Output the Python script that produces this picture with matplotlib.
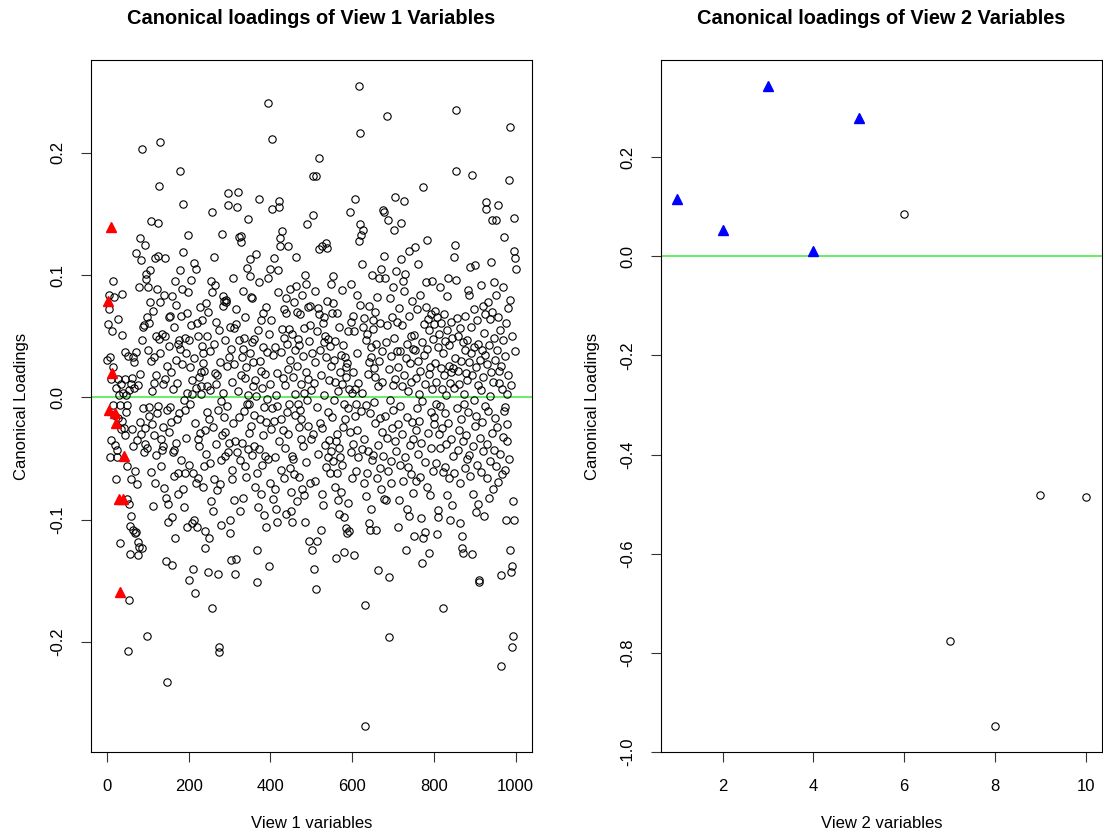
import numpy as np
import matplotlib
matplotlib.use("Agg")
import matplotlib.pyplot as plt

plt.rcParams['font.family'] = ['Liberation Sans', 'DejaVu Sans']

# canonical loadings of view 1 (variables 1..1000)
loadings1 = [
    0.031, 0.079, 0.060, -0.010, 0.084, 0.072, -0.049, 0.033, 0.139, 0.015,
    -0.035, 0.020, 0.054, 0.025, 0.095, -0.006, 0.082, -0.014, -0.013, -0.039,
    0.008, -0.021, -0.067, -0.049, -0.043, 0.015, 0.064, -0.017, 0.002, -0.083,
    -0.006, -0.159, -0.119, -0.026, 0.011, 0.051, 0.085, -0.019, -0.083, 0.004,
    -0.048, -0.025, 0.037, -0.031, 0.015, -0.012, 0.002, -0.083, -0.056, -0.006,
    0.034, -0.207, 0.006, -0.087, -0.166, -0.128, -0.105, -0.097, 0.011, -0.067,
    0.016, -0.026, -0.108, 0.033, -0.040, 0.008, 0.029, -0.111, -0.060, 0.118,
    0.037, -0.110, -0.035, -0.071, 0.010, -0.118, -0.129, 0.090, -0.122, 0.019,
    -0.020, 0.130, -0.030, 0.112, 0.203, -0.123, 0.047, -0.009, 0.058, -0.045,
    0.059, 0.125, -0.025, -0.038, 0.101, 0.097, -0.195, 0.066, -0.041, 0.039,
    0.090, -0.015, 0.061, -0.008, 0.078, 0.104, 0.144, 0.030, -0.061, 0.005,
    -0.022, 0.071, -0.089, -0.031, 0.033, 0.012, 0.114, -0.070, -0.047, 0.050,
    0.018, 0.089, -0.013, -0.007, 0.143, 0.116, 0.048, 0.173, 0.209, 0.078,
    0.036, -0.056, -0.034, -0.043, 0.052, -0.040, 0.011, -0.024, 0.084, -0.074,
    0.114, 0.015, 0.050, -0.134, -0.082, 0.026, -0.010, -0.233, -0.087, -0.102,
    0.066, -0.028, 0.042, 0.067, -0.008, -0.020, 0.021, -0.137, 0.083, -0.098,
    -0.045, 0.007, 0.058, -0.064, -0.043, 0.095, -0.115, 0.031, -0.037, 0.076,
    0.012, -0.018, -0.062, 0.044, -0.079, 0.047, -0.013, 0.185, 0.040, 0.104,
    0.067, -0.051, 0.027, 0.089, 0.158, 0.119, -0.075, -0.002, -0.090, -0.010,
    0.049, -0.062, 0.036, -0.033, 0.004, -0.106, 0.069, 0.133, 0.086, -0.055,
    0.047, -0.149, -0.005, 0.025, 0.096, 0.059, -0.103, 0.014, 0.003, -0.062,
    -0.140, 0.110, -0.100, 0.032, -0.021, -0.160, 0.008, -0.070, 0.105, -0.106,
    0.061, -0.034, -0.066, 0.050, 0.017, -0.040, 0.074, -0.029, 0.003, 0.009,
    0.021, 0.042, 0.063, 0.036, -0.073, 0.028, -0.056, 0.022, -0.027, -0.109,
    -0.123, 0.077, -0.046, -0.012, 0.050, 0.009, -0.143, 0.070, -0.115, -0.018,
    0.038, -0.054, 0.006, -0.085, 0.095, -0.172, 0.086, 0.152, -0.024, -0.093,
    0.044, -0.067, 0.115, 0.092, 0.020, -0.038, 0.011, 0.062, -0.076, 0.018,
    -0.010, -0.144, -0.204, -0.208, 0.055, -0.071, 0.029, -0.003, -0.051, -0.104,
    -0.031, 0.134, 0.004, 0.083, 0.075, -0.016, 0.079, 0.047, -0.048, -0.028,
    0.080, 0.078, -0.007, 0.026, -0.045, 0.157, 0.167, 0.033, -0.037, 0.058,
    -0.100, -0.111, -0.133, 0.040, -0.059, 0.013, -0.067, 0.098, -0.021, 0.057,
    0.027, -0.084, -0.144, -0.036, 0.072, 0.060, -0.132, 0.156, -0.045, 0.168,
    0.005, -0.016, 0.131, 0.047, -0.093, -0.051, 0.018, 0.127, 0.132, 0.033,
    -0.037, 0.087, -0.082, 0.040, -0.011, 0.049, 0.016, -0.056, 0.066, 0.025,
    -0.065, -0.005, 0.106, -0.042, 0.002, 0.146, -0.029, -0.005, 0.036, 0.113,
    0.099, 0.082, -0.023, 0.081, 0.045, -0.047, 0.009, 0.029, -0.014, -0.040,
    0.048, 0.014, -0.073, 0.117, 0.001, -0.062, -0.151, -0.125, 0.055, -0.090,
    0.094, -0.042, 0.162, 0.030, -0.018, 0.063, -0.079, 0.022, -0.055, 0.008,
    -0.031, 0.069, 0.041, -0.008, -0.096, 0.019, -0.048, 0.074, -0.106, -0.020,
    0.037, -0.001, 0.241, 0.098, -0.050, 0.052, -0.138, -0.070, 0.105, 0.011,
    -0.026, 0.063, -0.009, 0.211, 0.154, -0.083, 0.035, -0.019, 0.114, -0.075,
    0.041, -0.049, 0.002, -0.091, -0.102, -0.007, 0.020, 0.104, 0.086, -0.036,
    0.156, 0.161, 0.130, 0.124, 0.037, -0.059, -0.018, 0.056, 0.136, -0.027,
    0.016, -0.066, 0.049, 0.072, -0.041, 0.010, 0.069, -0.095, 0.081, 0.044,
    -0.012, 0.124, 0.023, -0.030, -0.005, 0.056, 0.089, -0.058, 0.031, -0.077,
    -0.093, -0.102, -0.048, 0.052, 0.017, -0.050, 0.078, -0.063, 0.003, 0.039,
    -0.014, 0.091, 0.115, -0.085, 0.026, 0.070, -0.005, 0.048, -0.024, 0.043,
    -0.065, 0.068, -0.010, -0.018, 0.011, -0.034, 0.084, -0.075, 0.034, -0.040,
    0.057, -0.080, 0.004, 0.100, -0.102, 0.093, 0.021, -0.053, 0.142, -0.002,
    0.074, 0.015, -0.023, -0.117, 0.046, 0.059, 0.075, -0.070, 0.006, -0.034,
    -0.125, 0.036, 0.149, -0.030, 0.181, -0.140, 0.012, 0.087, -0.068, 0.029,
    0.181, -0.157, -0.117, 0.054, -0.008, 0.073, -0.046, 0.196, 0.121, 0.068,
    -0.021, 0.039, -0.108, 0.018, -0.079, 0.124, -0.025, 0.061, -0.088, 0.002,
    0.045, 0.066, -0.039, 0.050, -0.057, 0.126, 0.033, 0.122, 0.079, -0.012,
    0.048, -0.049, 0.014, -0.035, 0.042, -0.062, 0.093, 0.026, -0.044, 0.069,
    -0.016, 0.099, 0.077, -0.052, 0.031, -0.002, 0.046, -0.073, 0.013, -0.036,
    -0.131, -0.062, 0.069, -0.030, -0.084, 0.005, -0.041, 0.058, -0.095, 0.021,
    -0.049, 0.035, -0.077, 0.011, -0.055, 0.088, -0.024, 0.043, -0.098, -0.005,
    -0.126, 0.033, -0.018, 0.017, -0.107, 0.025, -0.111, 0.028, -0.009, -0.086,
    0.054, -0.109, 0.007, -0.028, 0.152, -0.045, 0.093, 0.062, 0.004, -0.066,
    0.021, -0.038, 0.067, -0.129, 0.054, -0.015, 0.162, 0.007, -0.060, -0.005,
    0.036, -0.027, 0.084, -0.049, 0.012, 0.128, 0.255, 0.142, 0.216, 0.076,
    -0.011, 0.133, -0.042, 0.109, 0.004, 0.058, 0.137, -0.034, 0.065, -0.070,
    -0.170, -0.269, 0.047, -0.081, -0.006, 0.052, -0.062, -0.044, 0.019, 0.075,
    -0.103, 0.029, -0.108, -0.013, 0.033, -0.091, 0.041, -0.051, 0.100, 0.063,
    0.056, -0.047, 0.024, -0.004, 0.070, -0.021, 0.017, -0.108, 0.044, -0.066,
    0.082, -0.141, 0.009, -0.039, 0.098, 0.030, -0.058, 0.061, -0.017, 0.105,
    -0.075, 0.038, -0.028, 0.013, 0.153, -0.048, 0.152, 0.116, -0.083, 0.098,
    -0.015, -0.084, 0.045, -0.033, 0.230, 0.059, -0.060, 0.145, 0.023, -0.147,
    -0.196, 0.081, -0.002, -0.052, 0.034, -0.070, 0.066, -0.025, 0.010, 0.090,
    -0.010, 0.049, 0.137, -0.036, 0.015, 0.164, 0.103, -0.044, 0.062, 0.038,
    -0.022, -0.106, 0.025, -0.084, 0.073, -0.007, 0.038, -0.055, 0.143, 0.113,
    0.009, 0.059, -0.030, 0.095, -0.068, 0.018, 0.087, 0.161, -0.049, 0.101,
    -0.125, 0.032, -0.016, 0.044, -0.091, 0.005, -0.057, 0.120, 0.067, -0.097,
    0.028, -0.039, 0.050, -0.063, 0.013, -0.020, 0.079, -0.034, 0.040, -0.078,
    -0.113, 0.051, 0.039, 0.123, -0.027, 0.016, -0.068, 0.072, -0.009, 0.030,
    -0.046, 0.109, 0.003, -0.019, -0.065, 0.084, 0.022, -0.037, -0.099, -0.135,
    0.045, -0.003, 0.172, -0.115, 0.060, 0.035, -0.053, 0.011, -0.110, 0.074,
    0.094, -0.073, 0.129, 0.040, -0.029, 0.064, 0.019, -0.127, 0.055, -0.080,
    0.025, -0.041, 0.068, -0.012, 0.095, 0.007, -0.060, 0.048, -0.022, 0.060,
    -0.016, 0.071, 0.028, -0.054, -0.005, 0.013, 0.066, -0.112, 0.041, -0.098,
    -0.092, 0.052, -0.030, 0.090, -0.007, -0.041, 0.024, 0.061, -0.025, 0.007,
    -0.172, 0.036, -0.061, 0.018, 0.068, -0.013, -0.057, 0.046, 0.002, -0.038,
    0.083, -0.080, 0.055, 0.098, -0.021, 0.026, -0.066, 0.043, 0.012, -0.100,
    0.062, -0.034, 0.021, 0.049, -0.088, 0.024, -0.048, 0.115, 0.008, -0.062,
    0.032, 0.125, 0.235, 0.096, 0.185, 0.065, -0.009, 0.022, -0.043, 0.050,
    -0.027, 0.011, 0.057, -0.070, -0.103, 0.030, -0.018, -0.113, -0.123, -0.127,
    0.045, -0.036, 0.003, -0.005, 0.067, 0.039, -0.058, 0.020, -0.031, 0.047,
    0.014, -0.050, 0.088, -0.012, 0.084, -0.047, 0.029, 0.107, -0.064, 0.036,
    0.058, 0.182, -0.128, 0.018, -0.040, -0.079, 0.041, -0.002, 0.072, -0.023,
    0.108, -0.094, 0.025, -0.015, 0.063, -0.055, 0.010, 0.044, -0.087, -0.149,
    -0.151, 0.031, -0.033, 0.092, 0.006, -0.061, 0.039, -0.020, 0.075, -0.044,
    0.017, -0.097, 0.053, -0.007, 0.068, 0.035, 0.160, 0.154, -0.066, 0.027,
    -0.038, 0.078, -0.011, 0.043, -0.082, 0.064, 0.001, -0.052, 0.111, 0.021,
    -0.029, 0.070, 0.145, -0.075, 0.013, -0.043, 0.049, 0.094, -0.017, 0.031,
    -0.056, 0.084, 0.145, -0.024, 0.039, 0.066, 0.157, -0.069, 0.012, 0.022,
    -0.046, 0.055, -0.220, -0.145, 0.026, -0.063, 0.007, 0.047, -0.032, 0.090,
    0.131, -0.011, 0.034, -0.008, -0.059, -0.100, 0.061, -0.022, 0.003, -0.036,
    0.018, 0.073, -0.050, 0.178, 0.221, 0.080, -0.125, -0.143, 0.010, -0.138,
    0.050, -0.204, -0.195, -0.085, -0.100, 0.120, 0.147, 0.114, 0.038, 0.105,
]
# variables of view 1 drawn as red triangles
signal1 = [2, 4, 9, 12, 19, 22, 30, 32, 39, 41]

# canonical loadings of view 2 (variables 1..10)
loadings2 = [0.115, 0.053, 0.344, 0.011, 0.279, 0.085, -0.777, -0.947, -0.482, -0.485]
signal2 = [1, 2, 3, 4, 5]

xticks1 = [0, 200, 400, 600, 800, 1000]
yticks1 = [-0.2, -0.1, 0.0, 0.1, 0.2]
xticks2 = [2, 4, 6, 8, 10]
yticks2 = [-1.0, -0.8, -0.6, -0.4, -0.2, 0.0, 0.2]


def r_lim(v):
    # R's default 4% axis extension
    lo, hi = min(v), max(v)
    d = 0.04 * (hi - lo)
    return lo - d, hi + d


W, H = 1103, 835
fig = plt.figure(figsize=(W / 100, H / 100), dpi=100)

# axes boxes in pixels: left, top, right, bottom
boxes = [(91, 60, 532, 752), (661, 60, 1102, 752)]
panels = [
    (loadings1, signal1, 'red', xticks1, yticks1,
     'Canonical loadings of View 1 Variables', 'View 1 variables'),
    (loadings2, signal2, 'blue', xticks2, yticks2,
     'Canonical loadings of View 2 Variables', 'View 2 variables'),
]

for (l, t, r, b), (vals, sig, col, xt, yt, title, xlab) in zip(boxes, panels):
    ax = fig.add_axes([l / W, 1 - b / H, (r - l) / W, (b - t) / H])
    vals = np.array(vals)
    idx = np.arange(1, len(vals) + 1)
    hit = np.isin(idx, sig)

    ax.plot(idx[~hit], vals[~hit], linestyle='none', marker='o', ms=5.3,
            mfc='none', mec='black', mew=0.8)
    ax.plot(idx[hit], vals[hit], linestyle='none', marker='^', ms=6.6,
            color=col, mec=col)
    ax.axhline(0, color='#66ee66', lw=1.4, zorder=1)

    ax.set_xlim(r_lim(idx))
    ax.set_ylim(r_lim(vals))
    ax.set_xticks(xt)
    ax.set_yticks(yt)
    ax.set_yticklabels(['%.1f' % v for v in yt], rotation=90, va='center')
    ax.tick_params(direction='out', length=7.5, width=0.8, labelsize=12,
                   color='#333333')
    ax.tick_params(axis='x', pad=12)
    ax.tick_params(axis='y', pad=11)
    for s in ax.spines.values():
        s.set_linewidth(0.8)

    cx = (l + r) / 2
    fig.text(cx / W, 1 - 19 / H, title, ha='center', va='center',
             fontsize=14.4, fontweight='bold')
    fig.text(cx / W, 1 - 823 / H, xlab, ha='center', va='center', fontsize=12)
    fig.text((l - 69) / W, 1 - ((t + b) / 2) / H, 'Canonical Loadings',
             ha='center', va='center', rotation=90, fontsize=12)

fig.savefig('out.png', dpi=100)
